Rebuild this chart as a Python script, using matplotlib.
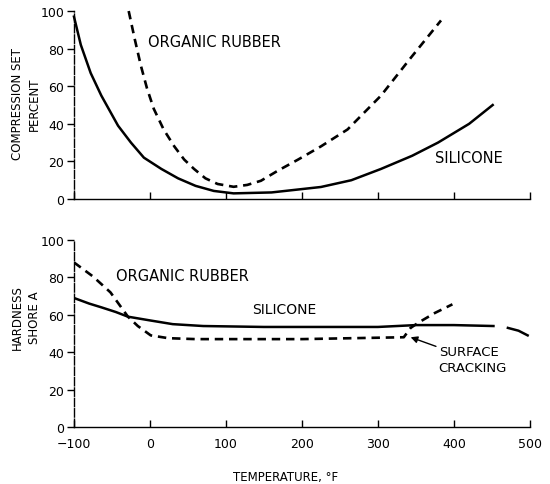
import matplotlib.pyplot as plt

# compression set vs temperature
top_sil_x = [-100, -91, -78, -64, -42, -25, -8, 15, 37, 60, 84, 110, 160, 225, 265, 304, 345, 379, 420, 451]
top_sil_y = [97, 82, 67, 55, 39, 30, 22, 16, 11, 7, 4.3, 3, 3.5, 6.4, 10, 16, 23, 30, 40, 50]
top_org_x = [-28, -20, -12, -4, 5, 18, 32, 45, 58, 73, 89, 110, 128, 146, 168, 195, 225, 260, 304, 343, 383]
top_org_y = [100, 85, 71, 59, 48, 37, 28, 21, 16, 11, 8, 6.5, 7.5, 9.7, 15, 21, 28, 37, 55, 75, 95]

# hardness vs temperature
bot_sil_x = [-100, -80, -64, -45, -29, 0, 30, 70, 150, 300, 350, 400, 452]
bot_sil_y = [69, 66, 64, 61.5, 59, 57, 55, 54, 53.5, 53.5, 54.5, 54.5, 54]
bot_sil_ext_x = [471, 485, 497]
bot_sil_ext_y = [53, 51.5, 49]
bot_org_x = [-100, -75, -52, -29, -16, 1, 24, 60, 200, 334, 343, 354, 375, 398]
bot_org_y = [88, 80.5, 72, 59, 54, 49, 47.5, 47, 47, 48, 53, 56, 61, 65.6]

x_ticks = [-100, 0, 100, 200, 300, 400, 500]
y_ticks = [0, 20, 40, 60, 80, 100]

fig = plt.figure(figsize=(5.5, 4.85), dpi=100)
ax1 = fig.add_axes([0.1345, 0.5876, 0.829, 0.3876])
ax2 = fig.add_axes([0.1345, 0.1175, 0.829, 0.3856])

dash = (3.2, 2.2)
for ax in (ax1, ax2):
    ax.set_xlim(-100, 500)
    ax.set_ylim(0, 100)
    ax.set_xticks(x_ticks)
    ax.set_yticks(y_ticks)
    ax.spines['top'].set_visible(False)
    ax.spines['right'].set_visible(False)
    ax.spines['left'].set_linewidth(1.0)
    ax.spines['left'].set_linestyle((0, (6, 1.5)))
    ax.spines['bottom'].set_linewidth(1.0)
    ax.tick_params(axis='x', direction='in', length=5, width=1, pad=7)
    ax.tick_params(axis='y', direction='out', length=5, width=1, pad=2)
    for lab in ax.get_yticklabels() + ax.get_xticklabels():
        lab.set_fontsize(9)

ax1.set_xticklabels([])
ax1.plot(top_sil_x, top_sil_y, color='black', lw=1.8, clip_on=False)
ax1.plot(top_org_x, top_org_y, color='black', lw=1.9, dashes=dash, clip_on=False)
ax1.text(-3, 84, 'ORGANIC RUBBER', fontsize=10.5, va='center', ha='left')
ax1.text(375, 22, 'SILICONE', fontsize=10.5, va='center', ha='left')

ax2.plot(bot_sil_x, bot_sil_y, color='black', lw=1.8)
ax2.plot(bot_sil_ext_x, bot_sil_ext_y, color='black', lw=1.8)
ax2.plot(bot_org_x, bot_org_y, color='black', lw=1.9, dashes=dash)
ax2.text(-45, 81, 'ORGANIC RUBBER', fontsize=10.5, va='center', ha='left')
ax2.text(135, 63, 'SILICONE', fontsize=10, va='center', ha='left')
ax2.annotate('SURFACE\nCRACKING', xy=(343, 48), xytext=(380, 36),
             fontsize=9.5, va='center', ha='left', linespacing=1.3,
             arrowprops=dict(arrowstyle='-|>', color='black', lw=1.0,
                             mutation_scale=10, shrinkA=0, shrinkB=0))

fig.text(0.047, 0.785, 'COMPRESSION SET\nPERCENT', rotation=90, fontsize=8.5,
         ha='center', va='center', multialignment='center', linespacing=1.4)
fig.text(0.047, 0.345, 'HARDNESS\nSHORE A', rotation=90, fontsize=8.5,
         ha='center', va='center', multialignment='center', linespacing=1.4)
fig.text(0.52, 0.003, 'TEMPERATURE, °F', fontsize=8.5, ha='center', va='bottom')

fig.savefig('out.png', dpi=100)
